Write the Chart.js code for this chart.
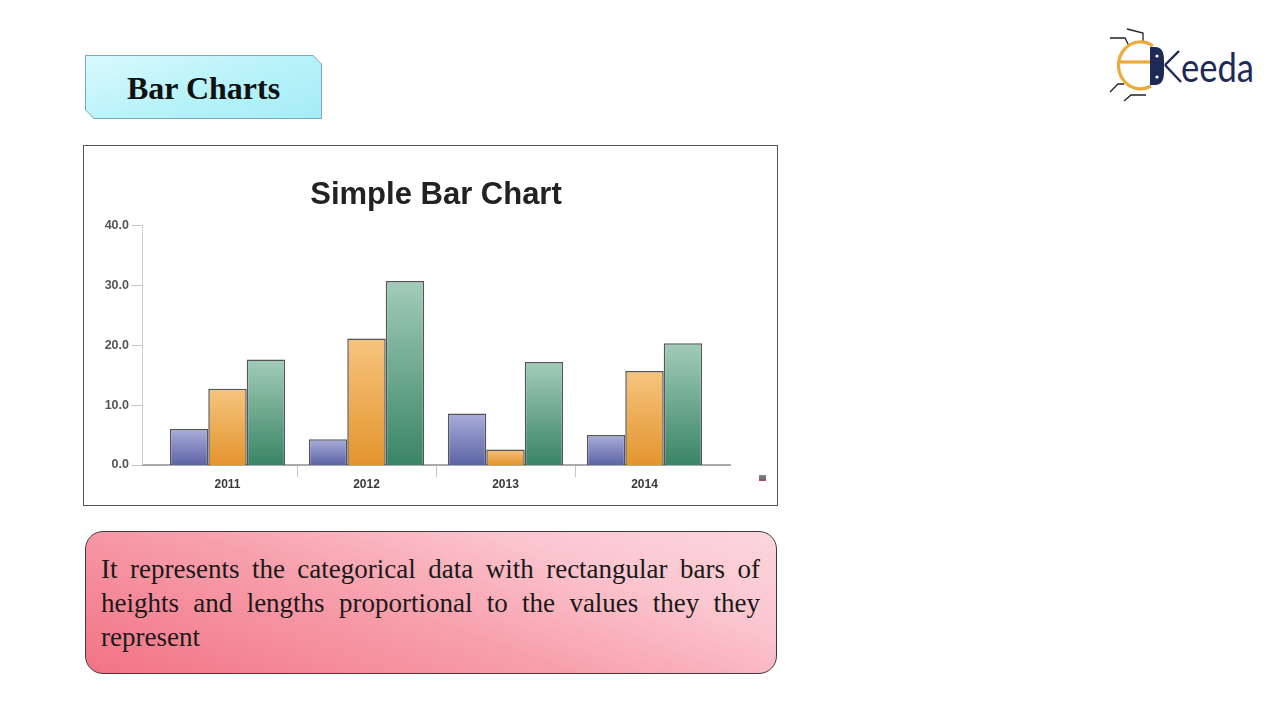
<!DOCTYPE html>
<html>
<head>
<meta charset="utf-8">
<script src="https://cdn.jsdelivr.net/npm/chart.js@4/dist/chart.umd.min.js"></script>
<style>
  html, body { margin: 0; padding: 0; background: #ffffff; }
  body { width: 1280px; height: 720px; position: relative; overflow: hidden; }
  #titleBox {
    position: absolute; left: 85px; top: 55px; width: 237px; height: 64px;
    background: #7aa6c8;
    clip-path: polygon(0 0, 228px 0, 237px 9px, 237px 64px, 9px 64px, 0 55px);
  }
  #titleBoxInner {
    position: absolute; left: 1px; top: 1px; right: 1px; bottom: 1px;
    background: linear-gradient(160deg, #d8fafd 0%, #b7f2f9 55%, #a6edf6 100%);
    clip-path: polygon(0 0, 227px 0, 235px 8px, 235px 62px, 8px 62px, 0 54px);
    display: flex; align-items: center; justify-content: center;
    padding-top: 3px; box-sizing: border-box;
    font-family: "Liberation Serif", "Times New Roman", serif;
    font-weight: bold; font-size: 32px; color: #111;
  }
  #chartBox {
    position: absolute; left: 83px; top: 145px; width: 695px; height: 361px;
    border: 1px solid #555; box-sizing: border-box; background: #fff;
  }
  #chartBox canvas { position: absolute; left: 0; top: 0; }
  #mini {
    position: absolute; left: 759px; top: 475px; width: 7px; height: 6px;
    background: linear-gradient(180deg, #8a8a92 0%, #6d6d78 60%, #c0405a 100%);
  }
  #textBox {
    position: absolute; left: 85px; top: 531px; width: 692px; height: 143px;
    box-sizing: border-box; border: 1.5px solid #3c3c3c; border-radius: 18px;
    background: linear-gradient(20deg, #f27384 0%, #f7a0ad 45%, #fbc6cf 75%, #fcd6dc 100%);
    font-family: "Liberation Serif", "Times New Roman", serif;
    font-size: 27px; color: #1a1a1a;
  }
  .ln { position: absolute; left: 15px; width: 659px; white-space: nowrap; line-height: 34px; }
  .jl { text-align: justify; text-align-last: justify; white-space: normal; }
  #logo { position: absolute; left: 1100px; top: 20px; }
</style>
</head>
<body>
<div id="titleBox"><div id="titleBoxInner">Bar Charts</div></div>

<svg id="logo" width="170" height="90" viewBox="1100 20 170 90">
  <g stroke="#222" stroke-width="1.3" fill="none">
    <polyline points="1127,29 1143,33 1143,41"/>
    <polyline points="1110,38 1125,38 1129,46"/>
    <polyline points="1110,92 1118,84 1124,84"/>
    <polyline points="1124,101 1131,95 1146,95"/>
  </g>
  <path d="M 1153 46 A 22 23.5 0 1 0 1151 86" stroke="#eda93a" stroke-width="3.2" fill="none"/>
  <line x1="1120" y1="62" x2="1151" y2="62" stroke="#eda93a" stroke-width="3.2"/>
  <path d="M 1150 47 L 1155 47 Q 1164 47 1164 60 L 1164 72 Q 1164 85 1155 85 L 1150 85 Z" fill="#1d2a56"/>
  <circle cx="1157" cy="56" r="1.6" fill="#fff"/>
  <circle cx="1157" cy="77" r="1.6" fill="#fff"/>
  <line x1="1165" y1="65" x2="1179" y2="51" stroke="#1d2a56" stroke-width="2.4"/>
  <line x1="1165" y1="65" x2="1181" y2="82" stroke="#1d2a56" stroke-width="2.4"/>
  <text x="1181" y="82" font-family="Lato, 'Open Sans', sans-serif" font-size="40" fill="#1d2a56" textLength="73" lengthAdjust="spacingAndGlyphs">eeda</text>
</svg>

<div id="chartBox"><canvas id="c" width="693" height="359" style="width:693px;height:359px;"></canvas></div>
<div id="mini"></div>

<div id="textBox">
  <div class="ln jl" style="top: 20px;">It represents the categorical data with rectangular bars of</div>
  <div class="ln jl" style="top: 54px;">heights and lengths proportional to the values they they</div>
  <div class="ln" style="top: 88px;">represent</div>
</div>

<script>
// ---- Data ----
const categories = ['2011', '2012', '2013', '2014'];
const seriesBlue   = [6.0, 4.3, 8.6, 5.0];
const seriesOrange = [12.7, 21.1, 2.6, 15.7];
const seriesGreen  = [17.6, 30.7, 17.2, 20.3];
const yTicks = [0, 10, 20, 30, 40];
const chartTitle = 'Simple Bar Chart';

function barGradient(topColor, bottomColor) {
  return function (c) {
    const chart = c.chart;
    const area = chart.chartArea;
    if (!area || c.raw === undefined || !chart.scales.y) return bottomColor;
    const y0 = chart.scales.y.getPixelForValue(c.raw);
    const y1 = chart.scales.y.getPixelForValue(0);
    if (!isFinite(y0) || !isFinite(y1) || y0 === y1) return bottomColor;
    const g = chart.ctx.createLinearGradient(0, y0, 0, y1);
    g.addColorStop(0, topColor);
    g.addColorStop(1, bottomColor);
    return g;
  };
}

const axisLines = {
  id: 'axisLines',
  beforeDatasetsDraw(chart) {
    const { ctx, chartArea } = chart;
    const y = chart.scales.y;
    const ax = chartArea.left - 15.5;
    ctx.save();
    ctx.strokeStyle = '#cfcfcf';
    ctx.lineWidth = 1;
    ctx.beginPath();
    ctx.moveTo(ax, y.getPixelForValue(yTicks[yTicks.length - 1]));
    ctx.lineTo(ax, y.getPixelForValue(0));
    ctx.stroke();
    ctx.strokeStyle = '#c4c4c4';
    y.ticks.forEach(t => {
      const py = Math.round(y.getPixelForValue(t.value)) + 0.5;
      ctx.beginPath();
      ctx.moveTo(ax - 11, py);
      ctx.lineTo(ax, py);
      ctx.stroke();
    });
    ctx.strokeStyle = '#ababab';
    ctx.lineWidth = 2;
    ctx.beginPath();
    const by = y.getPixelForValue(0);
    ctx.moveTo(ax, by);
    ctx.lineTo(chartArea.right + 17, by);
    ctx.stroke();
    ctx.restore();
  }
};

const border = 'rgba(55,55,60,0.85)';

new Chart(document.getElementById('c'), {
  type: 'bar',
  data: {
    labels: categories,
    datasets: [
      { data: seriesBlue,   backgroundColor: barGradient('#a9aedb', '#5c63a2'), borderColor: border, borderWidth: 1.5 },
      { data: seriesOrange, backgroundColor: barGradient('#f6c47e', '#e3952e'), borderColor: border, borderWidth: 1.5 },
      { data: seriesGreen,  backgroundColor: barGradient('#a2ccb9', '#398565'), borderColor: border, borderWidth: 1.5 }
    ]
  },
  options: {
    responsive: false,
    animation: false,
    devicePixelRatio: 1,
    layout: { padding: { left: 0, right: 63, top: 0, bottom: 0 } },
    datasets: { bar: { categoryPercentage: 0.83, barPercentage: 1.0 } },
    plugins: {
      legend: { display: false },
      tooltip: { enabled: false },
      title: {
        display: true,
        fullSize: false,
        text: chartTitle,
        color: '#222',
        font: { family: 'Liberation Sans, Arial, sans-serif', size: 31, weight: 'bold', lineHeight: 1.2 },
        padding: { top: 31, bottom: 11 }
      }
    },
    scales: {
      x: {
        offset: true,
        border: { display: false },
        grid: {
          display: true,
          offset: true,
          drawOnChartArea: false,
          drawTicks: true,
          tickLength: 12,
          lineWidth: 1,
          color: (c) => (c.type === 'tick' && c.index > 0) ? '#c6c6c6' : 'rgba(0,0,0,0)'
        },
        ticks: {
          padding: 0,
          color: '#3a3a3a',
          font: { family: 'Liberation Sans, Arial, sans-serif', size: 12, weight: 'bold' }
        },
        afterFit: (s) => { s.height = 40; }
      },
      y: {
        min: 0,
        max: 40,
        border: { display: false },
        grid: { display: false, drawTicks: false },
        afterBuildTicks: (s) => { s.ticks = yTicks.map(v => ({ value: v })); },
        ticks: {
          padding: 29,
          color: '#555',
          font: { family: 'Liberation Sans, Arial, sans-serif', size: 12.5, weight: 'bold' },
          callback: (v) => Number(v).toFixed(1)
        },
        afterFit: (s) => { s.width = 74; }
      }
    }
  },
  plugins: [axisLines]
});
</script>
</body>
</html>
